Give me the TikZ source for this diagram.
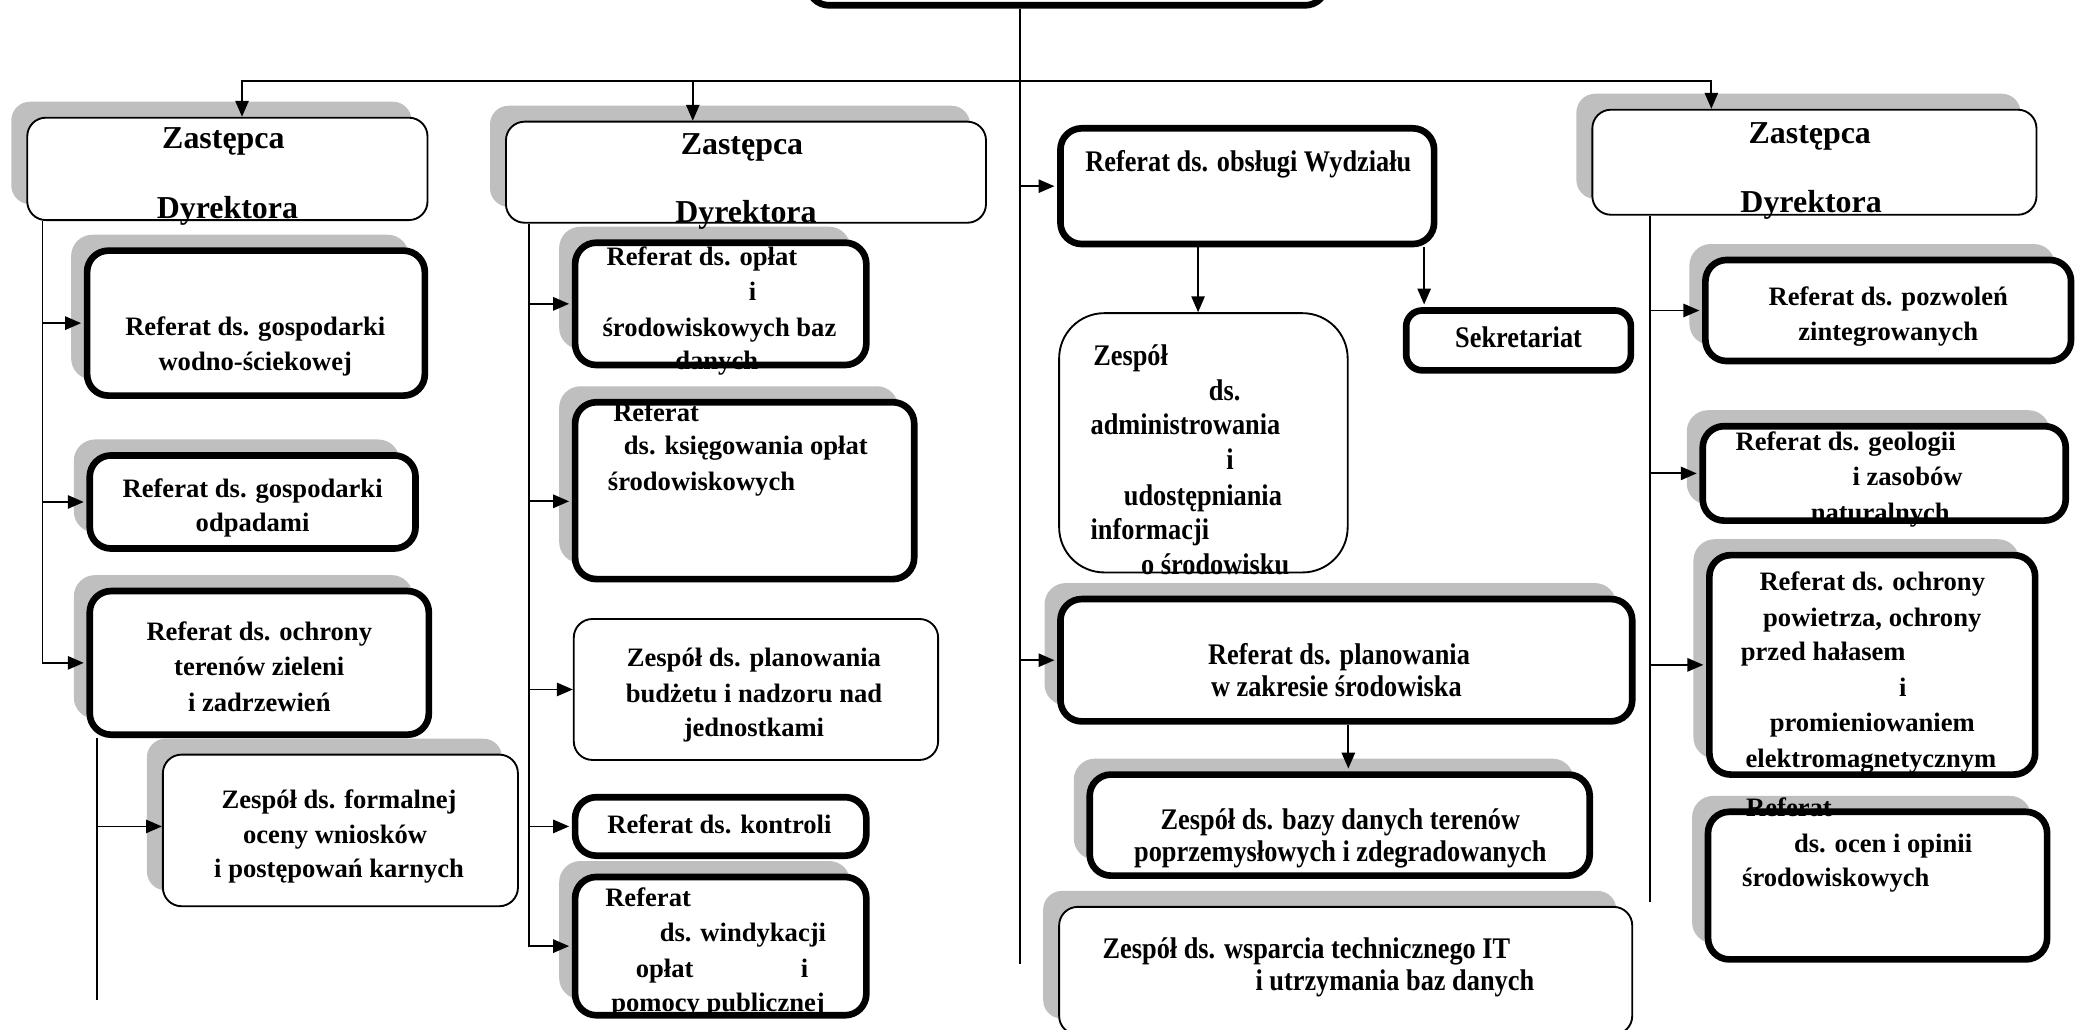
\documentclass[tikz,border=0pt]{standalone}
\usepackage{fontspec}
\setmainfont{Liberation Serif}
\newfontfamily\condf[FakeStretch=0.88]{Liberation Serif}
\usetikzlibrary{arrows.meta,shadows,calc}
\definecolor{shd}{HTML}{BFBFBF}
\newcommand\tC[5][txt]{\node[#1,anchor=base] (#2) at (#3,{#4+7}) {#5};}
\newcommand\tL[5][txt]{\node[#1,anchor=base west] (#2) at (#3,{#4+7}) {#5};}
\begin{document}
\begin{tikzpicture}[x=1pt,y=-1pt,
  shad/.style={general shadow={fill=shd, shadow xshift=-12pt, shadow yshift=12pt}},
  thinbox/.style={draw, line width=1.4pt, rounded corners=14pt, fill=white, inner sep=0pt},
  thickbox/.style={draw, line width=5pt, rounded corners=16pt, fill=white, inner sep=0pt},
  conn/.style={line width=1.4pt},
  arr/.style={conn, -{Triangle[length=12pt,width=10pt]}},
  arrk/.style={arr, shorten >=2pt},
  txt/.style={font=\fontsize{20}{26}\selectfont\bfseries, inner sep=0pt},
  ctxt/.style={font=\condf\fontsize{22.5}{26}\selectfont\bfseries, inner sep=0pt},
  ztxt/.style={font=\fontsize{24}{28}\selectfont\bfseries, inner sep=0pt}]
\useasboundingbox (0,0) rectangle (1568,774);

% ---------- boxes ----------
\node[thickbox, minimum width=390pt, minimum height=64pt] (dir) at (802.5,-28) {};

\node[thinbox, shad, minimum width=301pt, minimum height=77pt] (z1) at (171,127) {};
\node[thinbox, shad, minimum width=361pt, minimum height=76pt] (z2) at (561,129.5) {};
\node[thinbox, shad, minimum width=334pt, minimum height=79pt] (z3) at (1364.5,122) {};

\node[thickbox, shad, minimum width=254pt, minimum height=109pt] (wod) at (192.5,243) {};
\node[thickbox, shad, minimum width=245pt, minimum height=70pt] (odp) at (190,377.5) {};
\node[thickbox, shad, minimum width=255pt, minimum height=108pt] (och) at (195,498.5) {};
\node[thinbox, shad, minimum width=267pt, minimum height=114pt] (form) at (256,624.5) {};

\node[thickbox, shad, minimum width=219pt, minimum height=92pt] (opl) at (542,228.5) {};
\node[thickbox, shad, minimum width=255pt, minimum height=133pt] (ksi) at (560,369) {};
\node[thinbox, minimum width=274pt, minimum height=106pt] (bud) at (568.5,518.5) {};
\node[thickbox, minimum width=219pt, minimum height=44pt] (kon) at (542,621.5) {};
\node[thickbox, shad, minimum width=219pt, minimum height=104pt] (win) at (542,711.5) {};

\node[thickbox, minimum width=281pt, minimum height=87pt] (obs) at (938,140) {};
\node[thinbox, rounded corners=34pt, minimum width=217pt, minimum height=195pt] (adm) at (905,333) {};
\node[thickbox, rounded corners=12pt, minimum width=169pt, minimum height=45pt] (sek) at (1142,256) {};
\node[thickbox, shad, minimum width=430pt, minimum height=92pt] (pla) at (1012.5,496.5) {};
\node[thickbox, shad, minimum width=376pt, minimum height=76pt] (baz) at (1007.5,620.5) {};
\node[thinbox, shad, minimum width=431pt, minimum height=96pt] (wsp) at (1012,730) {};

\node[thickbox, shad, minimum width=275pt, minimum height=76pt] (poz) at (1420,233.5) {};
\node[thickbox, shad, minimum width=273pt, minimum height=71pt] (geo) at (1417,356) {};
\node[thickbox, shad, minimum width=245pt, minimum height=165pt] (pow) at (1408,500) {};
\node[thickbox, shad, minimum width=255pt, minimum height=111pt] (oce) at (1412,666) {};

% ---------- connectors ----------
\coordinate (hub) at (767,61);
\coordinate (cend) at (767,725);
\coordinate (ax1) at (182,0);
\coordinate (ax2) at (521,0);
\coordinate (ax3) at (1287,0);
\draw[conn] (dir.south -| cend) -- (cend);
\draw[arr] (hub) -| (z1.north -| ax1);
\draw[arr] (hub) -| (z2.north -| ax2);
\draw[arr] (hub) -| (z3.north -| ax3);

\coordinate (t1) at (32,0);
\draw[arrk] (z1.south -| t1) |- (och.west);
\draw[arrk] (t1 |- wod.west) -- (wod.west);
\draw[arrk] (t1 |- odp.west) -- (odp.west);
\coordinate (t1s) at (73,752);
\draw[conn] (och.south -| t1s) -- (t1s);
\coordinate (formin) at ($(form.west)+(0,-3)$);
\draw[arr] (t1s |- formin) -- (formin);

\coordinate (t2) at (398,0);
\coordinate (ksiin) at ($(ksi.west)+(0,8)$);
\draw[arrk] (z2.south -| t2) |- (win.west);
\draw[arrk] (t2 |- opl.west) -- (opl.west);
\draw[arrk] (t2 |- ksiin) -- (ksiin);
\draw[arr] (t2 |- bud.west) -- (bud.west);
\draw[arrk] (t2 |- kon.west) -- (kon.west);

\draw[arrk] (cend |- obs.west) -- (obs.west);
\draw[arrk] (cend |- pla.west) -- (pla.west);
\coordinate (xa) at (901,0);
\coordinate (xs) at (1071,0);
\coordinate (xb) at (1014,0);
\draw[arr] (obs.south -| xa) -- (adm.north -| xa);
\draw[arrk] (obs.south -| xs) -- (sek.north -| xs);
\draw[arrk] (pla.south -| xb) -- (baz.north -| xb);

\coordinate (t4) at (1241,678);
\draw[conn] (z3.south -| t4) -- (t4);
\draw[arrk] (t4 |- poz.west) -- (poz.west);
\draw[arrk] (t4 |- geo.west) -- (geo.west);
\draw[arrk] (t4 |- pow.west) -- (pow.west);

% ---------- texts ----------
\tC[ztxt]{z1a}{168}{105}{Zastępca}
\tC[ztxt]{z1b}{171}{157}{Dyrektora}
\tC[ztxt]{z2a}{558}{109}{Zastępca}
\tC[ztxt]{z2b}{561}{160}{Dyrektora}
\tC[ztxt]{z3a}{1361}{101}{Zastępca}
\tC[ztxt]{z3b}{1362}{153}{Dyrektora}

\tC{wod1}{192}{245}{Referat ds. gospodarki}
\tC{wod2}{192}{272}{wodno-ściekowej}
\tC{odp1}{190}{367}{Referat ds. gospodarki}
\tC{odp2}{190}{393}{odpadami}
\tC{och1}{195}{475}{Referat ds. ochrony}
\tC{och2}{195}{501}{terenów zieleni}
\tC{och3}{195}{528}{i zadrzewień}
\tC{form1}{255}{601}{Zespół ds. formalnej}
\tC{form2}{252}{627}{oceny wniosków}
\tC{form3}{255}{653}{i postępowań karnych}

\tL{opl1}{456}{193}{Referat ds. opłat}
\tC{opl2}{566}{219}{i}
\tL{opl3}{453}{246}{środowiskowych baz}
\tC{opl4}{539}{271}{danych}
\tL{ksi1}{461}{310}{Referat}
\tL{ksi2}{469}{335}{ds. księgowania opłat}
\tL{ksi3}{457}{362}{środowiskowych}
\tC{bud1}{567}{494}{Zespół ds. planowania}
\tC{bud2}{567}{521}{budżetu i nadzoru nad}
\tC{bud3}{567}{547}{jednostkami}
\tC{kon1}{541}{620}{Referat ds. kontroli}
\tL{win1}{455}{675}{Referat}
\tL{win2}{496}{701}{ds. windykacji}
\tL{win3}{478}{728}{opłat}
\tC{win4}{605}{728}{i}
\tC{win5}{540}{754}{pomocy publicznej}

\tL[ctxt]{obs1}{816}{122}{Referat ds. obsługi Wydziału}
\tL[ctxt]{adm1}{822}{268}{Zespół}
\tC[ctxt]{adm2}{921}{294}{ds.}
\tL[ctxt]{adm3}{820}{320}{administrowania}
\tC[ctxt]{adm4}{925}{346}{i}
\tL[ctxt]{adm5}{845}{373}{udostępniania}
\tL[ctxt]{adm6}{820}{399}{informacji}
\tL[ctxt]{adm7}{858}{425}{o środowisku}
\tC[ctxt]{sek1}{1142}{254}{Sekretariat}
\tC[ctxt]{pla1}{1007}{493}{Referat ds. planowania}
\tC[ctxt]{pla2}{1005}{517}{w zakresie środowiska}
\tC[ctxt]{baz1}{1008}{617}{Zespół ds. bazy danych terenów}
\tC[ctxt]{baz2}{1008}{641}{poprzemysłowych i zdegradowanych}
\tL[ctxt]{wsp1}{829}{714}{Zespół ds. wsparcia technicznego IT}
\tL[ctxt]{wsp2}{944}{738}{i utrzymania baz danych}

\tC{poz1}{1420}{223}{Referat ds. pozwoleń}
\tC{poz2}{1420}{249}{zintegrowanych}
\tL{geo1}{1305}{332}{Referat ds. geologii}
\tL{geo2}{1393}{358}{i zasobów}
\tC{geo3}{1414}{385}{naturalnych}
\tC{pow1}{1408}{437}{Referat ds. ochrony}
\tC{pow2}{1408}{464}{powietrza, ochrony}
\tL{pow3}{1309}{490}{przed hałasem}
\tC{pow4}{1431}{517}{i}
\tC{pow5}{1408}{543}{promieniowaniem}
\tC{pow6}{1407}{570}{elektromagnetycznym}
\tL{oce1}{1313}{607}{Referat}
\tL{oce2}{1349}{634}{ds. ocen i opinii}
\tL{oce3}{1310}{660}{środowiskowych}
\end{tikzpicture}
\end{document}
